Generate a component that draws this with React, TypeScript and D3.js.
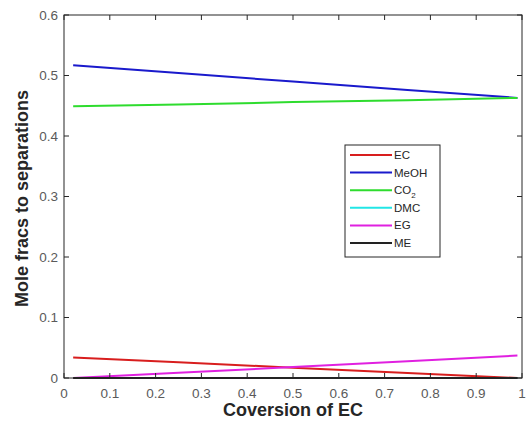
import React, { useEffect, useRef } from 'react'
import * as d3 from 'd3'

// conversion of EC (x) and mole fractions
const conversion = [0.02, 0.25, 0.5, 0.75, 0.99]
const ecVals = [0.034, 0.026, 0.017, 0.0084, 0.0]
const meohVals = [0.517, 0.504, 0.49, 0.476, 0.463]
const co2Vals = [0.449, 0.452, 0.456, 0.459, 0.463]
const dmcVals = [0, 0, 0, 0, 0]
const egVals = [0.0, 0.0088, 0.018, 0.0275, 0.037]
const meVals = [0, 0, 0, 0, 0]

const seriesNames = ['EC', 'MeOH', 'CO2', 'DMC', 'EG', 'ME']
const seriesColors = ['#d81e1e', '#1a1acc', '#2edc2e', '#22e6e6', '#e020e0', '#222222']
const xTicks = [0, 0.1, 0.2, 0.3, 0.4, 0.5, 0.6, 0.7, 0.8, 0.9, 1]
const yTicks = [0, 0.1, 0.2, 0.3, 0.4, 0.5, 0.6]

export default function App() {
    const ref = useRef<SVGSVGElement>(null)

    useEffect(() => {
        const width = 526
        const height = 430
        const m = { left: 64, right: 4, top: 15, bottom: 52 }
        const svg = d3.select(ref.current)
        svg.selectAll('*').remove()
        svg.append('rect').attr('width', width).attr('height', height).attr('fill', '#fff')

        const x = d3.scaleLinear().domain([0, 1]).range([m.left, width - m.right])
        const y = d3.scaleLinear().domain([0, 0.6]).range([height - m.bottom, m.top])
        const font = 'Liberation Sans, Arial, sans-serif'

        // lines
        const allVals = [ecVals, meohVals, co2Vals, dmcVals, egVals, meVals]
        const line = d3.line<number>()
            .x((d, i) => x(conversion[i]))
            .y(d => y(d))
        const g = svg.append('g')
        allVals.forEach((vals, k) => {
            g.append('path')
                .datum(vals)
                .attr('d', line)
                .attr('fill', 'none')
                .attr('stroke', seriesColors[k])
                .attr('stroke-width', 2)
        })

        // axes box with inward ticks on all sides
        const axisColor = '#262626'
        const tickLen = 5
        const box = svg.append('g')
        box.append('rect')
            .attr('x', x(0)).attr('y', y(0.6))
            .attr('width', x(1) - x(0)).attr('height', y(0) - y(0.6))
            .attr('fill', 'none').attr('stroke', axisColor).attr('stroke-width', 1)

        xTicks.forEach(t => {
            box.append('line').attr('x1', x(t)).attr('x2', x(t))
                .attr('y1', y(0)).attr('y2', y(0) - tickLen).attr('stroke', axisColor)
            box.append('line').attr('x1', x(t)).attr('x2', x(t))
                .attr('y1', y(0.6)).attr('y2', y(0.6) + tickLen).attr('stroke', axisColor)
            box.append('text')
                .attr('x', x(t)).attr('y', y(0) + 20)
                .attr('text-anchor', 'middle')
                .attr('font-family', font).attr('font-size', 13.5)
                .attr('fill', '#5a5a5a')
                .text(String(t))
        })
        yTicks.forEach(t => {
            box.append('line').attr('x1', x(0)).attr('x2', x(0) + tickLen)
                .attr('y1', y(t)).attr('y2', y(t)).attr('stroke', axisColor)
            box.append('line').attr('x1', x(1)).attr('x2', x(1) - tickLen)
                .attr('y1', y(t)).attr('y2', y(t)).attr('stroke', axisColor)
            box.append('text')
                .attr('x', x(0) - 6).attr('y', y(t) + 4.5)
                .attr('text-anchor', 'end')
                .attr('font-family', font).attr('font-size', 13.5)
                .attr('fill', '#5a5a5a')
                .text(String(t))
        })

        // axis labels
        svg.append('text')
            .attr('x', (x(0) + x(1)) / 2).attr('y', 416)
            .attr('text-anchor', 'middle')
            .attr('font-family', font).attr('font-size', 18).attr('font-weight', 'bold')
            .attr('fill', '#262626')
            .text('Coversion of EC')
        svg.append('text')
            .attr('transform', 'translate(28,' + (y(0.3) + 2) + ') rotate(-90)')
            .attr('text-anchor', 'middle')
            .attr('font-family', font).attr('font-size', 18).attr('font-weight', 'bold')
            .attr('fill', '#262626')
            .text('Mole fracs to separations')

        // legend
        const lx = 345, ly = 145, lw = 95, lh = 112
        const leg = svg.append('g')
        leg.append('rect')
            .attr('x', lx).attr('y', ly).attr('width', lw).attr('height', lh)
            .attr('fill', '#fff').attr('stroke', axisColor).attr('stroke-width', 1)
        seriesNames.forEach((name, i) => {
            const yy = ly + 10 + i * 17.6
            leg.append('line')
                .attr('x1', lx + 5).attr('x2', lx + 47)
                .attr('y1', yy).attr('y2', yy)
                .attr('stroke', seriesColors[i]).attr('stroke-width', 2)
            const t = leg.append('text')
                .attr('x', lx + 49).attr('y', yy + 4)
                .attr('font-family', font).attr('font-size', 11.5)
                .attr('fill', '#262626')
            if (name === 'CO2') {
                t.append('tspan').text('CO')
                t.append('tspan').attr('font-size', 8).attr('dy', 4).text('2')
            } else {
                t.text(name)
            }
        })
    }, [])

    return (
        <svg ref={ref} width={526} height={430}
            style={{ position: 'absolute', left: 0, top: 0, display: 'block' }} />
    )
}
